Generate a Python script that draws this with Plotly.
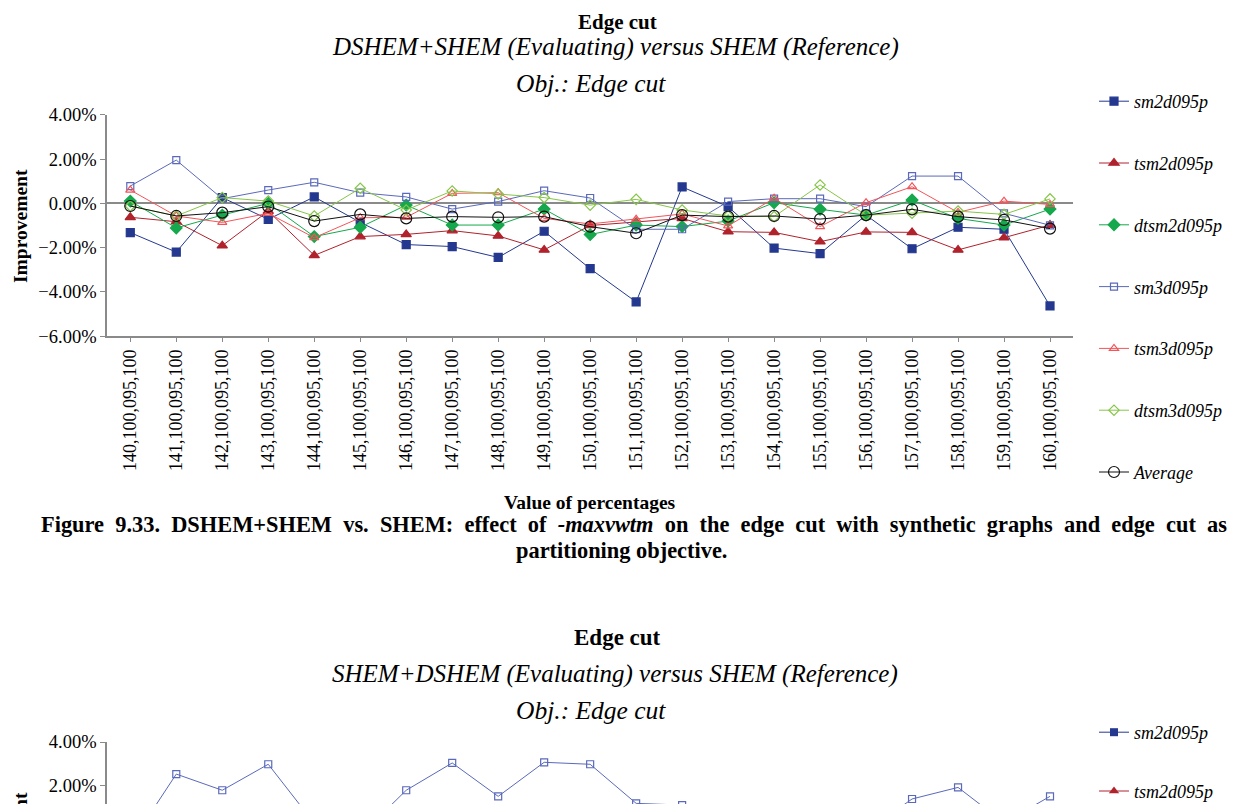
import plotly.graph_objects as go

# ---------------- data ----------------
categories = ["140,100,095,100", "141,100,095,100", "142,100,095,100", "143,100,095,100",
              "144,100,095,100", "145,100,095,100", "146,100,095,100", "147,100,095,100",
              "148,100,095,100", "149,100,095,100", "150,100,095,100", "151,100,095,100",
              "152,100,095,100", "153,100,095,100", "154,100,095,100", "155,100,095,100",
              "156,100,095,100", "157,100,095,100", "158,100,095,100", "159,100,095,100",
              "160,100,095,100"]

# Chart 1 (values in %)
sm2d095p = [-1.32, -2.20, 0.26, -0.72, 0.29, -0.86, -1.86, -1.95, -2.44, -1.26, -2.95,
            -4.45, 0.74, -0.15, -2.02, -2.27, -0.53, -2.05, -1.08, -1.17, -4.63]
tsm2d095p = [-0.63, -0.83, -1.91, -0.35, -2.35, -1.50, -1.40, -1.23, -1.47, -2.10, -1.00,
             -0.85, -0.68, -1.28, -1.31, -1.73, -1.29, -1.31, -2.10, -1.55, -0.98]
dtsm2d095p = [0.10, -1.11, -0.53, 0.00, -1.50, -1.08, -0.08, -0.98, -0.98, -0.26, -1.41,
              -0.98, -1.05, -0.80, 0.03, -0.27, -0.53, 0.15, -0.68, -0.98, -0.26]
sm3d095p = [0.78, 1.95, 0.21, 0.60, 0.95, 0.48, 0.29, -0.26, 0.08, 0.57, 0.24,
            -1.17, -1.17, 0.08, 0.21, 0.21, -0.15, 1.23, 1.23, -0.45, -0.99]
tsm3d095p = [0.60, -0.57, -0.86, -0.45, -1.55, -0.65, -0.63, 0.45, 0.48, -0.68, -0.93,
             -0.72, -0.48, -1.02, 0.23, -1.05, 0.03, 0.75, -0.41, 0.10, -0.05]
dtsm3d095p = [-0.12, -0.57, 0.26, 0.10, -0.57, 0.68, -0.30, 0.56, 0.42, 0.26, -0.08,
              0.18, -0.30, -0.57, -0.60, 0.83, -0.53, -0.45, -0.35, -0.50, 0.20]
average = [-0.12, -0.57, -0.42, -0.15, -0.80, -0.50, -0.68, -0.60, -0.63, -0.60, -1.05,
           -1.35, -0.53, -0.60, -0.57, -0.71, -0.53, -0.27, -0.60, -0.75, -1.14]

# Chart 2 (only its top part is visible on the page; values below ~1.2% are estimates)
sm3d095p_b = [-0.67, 2.53, 1.79, 2.98, 0.28, -0.28, 1.79, 3.04, 1.51, 3.07, 2.98,
              1.19, 1.11, 0.50, 0.30, 0.60, -0.10, 1.39, 1.92, 0.30, 1.51]

y_tickvals = [-6, -4, -2, 0, 2, 4]
y_ticktext = ["\u22126.00%", "\u22124.00%", "\u22122.00%", "0.00%", "2.00%", "4.00%"]

series_names = ["sm2d095p", "tsm2d095p", "dtsm2d095p", "sm3d095p", "tsm3d095p", "dtsm3d095p", "Average"]
series_values = [sm2d095p, tsm2d095p, dtsm2d095p, sm3d095p, tsm3d095p, dtsm3d095p, average]

# ---------------- styles ----------------
styles = {
    "sm2d095p":   dict(color="#24388F", symbol="square", size=8),
    "tsm2d095p":  dict(color="#B0222C", symbol="triangle-up", size=9),
    "dtsm2d095p": dict(color="#15A84C", symbol="diamond", size=9),
    "sm3d095p":   dict(color="#5A69BA", symbol="square-open", size=7),
    "tsm3d095p":  dict(color="#F2555A", symbol="triangle-up-open", size=8),
    "dtsm3d095p": dict(color="#86C548", symbol="diamond-open", size=8),
    "Average":    dict(color="#111111", symbol="circle-open", size=11),
}

OFF = 8                       # page body margin
W, H = 1236 - OFF, 804 - OFF  # figure size
FONT = "Liberation Serif"


def px_x(p):
    return (p - OFF) / W


def px_y(p):
    return 1 - (p - OFF) / H


fig = go.Figure()

for name, vals in zip(series_names, series_values):
    st = styles[name]
    fig.add_trace(go.Scatter(
        x=categories, y=vals, name=name, mode="lines+markers",
        line=dict(color=st["color"], width=1),
        marker=dict(symbol=st["symbol"], size=st["size"], color=st["color"],
                    line=dict(color=st["color"], width=1.2)),
        legend="legend", legendgroup="top_" + name,
        xaxis="x", yaxis="y",
    ))

# Chart 2 traces
for name in ["sm2d095p", "tsm2d095p"]:
    st = styles[name]
    fig.add_trace(go.Scatter(
        x=categories, y=[None] * len(categories), name=name, mode="lines+markers",
        line=dict(color=st["color"], width=1),
        marker=dict(symbol=st["symbol"], size=st["size"], color=st["color"]),
        legend="legend2", legendgroup="bot_" + name,
        xaxis="x2", yaxis="y2",
    ))
st = styles["sm3d095p"]
fig.add_trace(go.Scatter(
    x=categories, y=sm3d095p_b, name="sm3d095p", mode="lines+markers",
    line=dict(color=st["color"], width=1),
    marker=dict(symbol=st["symbol"], size=st["size"], color=st["color"],
                line=dict(color=st["color"], width=1.2)),
    showlegend=False, xaxis="x2", yaxis="y2",
))

axis_gray = "#8A8A8A"
x_dom = [px_x(107.3), px_x(1073)]

fig.update_layout(
    width=W, height=H,
    margin=dict(l=0, r=0, t=0, b=0, autoexpand=False),
    paper_bgcolor="white", plot_bgcolor="white",
    font=dict(family=FONT, color="black", size=18),
    xaxis=dict(
        domain=x_dom, anchor="y", type="category", range=[-0.5, 20.5],
        showline=True, linecolor=axis_gray, linewidth=2,
        ticks="outside", ticklen=4, tickcolor=axis_gray, tickwidth=1,
        tickangle=-90, tickfont=dict(family=FONT, size=18),
        showgrid=False, zeroline=False,
    ),
    yaxis=dict(
        domain=[px_y(336.3), px_y(114.7)], anchor="x", range=[-6, 4],
        tickvals=y_tickvals, ticktext=y_ticktext,
        showline=True, linecolor=axis_gray, linewidth=2,
        ticks="outside", ticklen=5, tickcolor=axis_gray, tickwidth=1,
        tickfont=dict(family=FONT, size=18.5),
        showgrid=False, zeroline=True, zerolinecolor=axis_gray, zerolinewidth=1.5,
    ),
    xaxis2=dict(
        domain=x_dom, anchor="y2", type="category", range=[-0.5, 20.5],
        visible=False,
    ),
    yaxis2=dict(
        domain=[0, px_y(742)], anchor="x2", range=[1.16, 4.0],
        tickvals=y_tickvals, ticktext=y_ticktext,
        showline=True, linecolor=axis_gray, linewidth=2,
        ticks="outside", ticklen=5, tickcolor=axis_gray, tickwidth=1,
        tickfont=dict(family=FONT, size=18.5),
        showgrid=False, zeroline=False,
    ),
    legend=dict(
        x=px_x(1094), y=px_y(83), xanchor="left", yanchor="top",
        font=dict(family=FONT, size=18, style="italic"),
        tracegroupgap=35.4, traceorder="grouped", bgcolor="rgba(0,0,0,0)",
    ),
    legend2=dict(
        x=px_x(1094), y=px_y(714), xanchor="left", yanchor="top",
        font=dict(family=FONT, size=18, style="italic"),
        tracegroupgap=32.4, traceorder="grouped", bgcolor="rgba(0,0,0,0)",
    ),
    showlegend=True,
)

ann = []


def text(x, y, t, size, **kw):
    ann.append(dict(xref="paper", yref="paper", x=px_x(x), y=px_y(y), text=t,
                    showarrow=False, xanchor=kw.pop("xanchor", "center"),
                    yanchor=kw.pop("yanchor", "middle"),
                    font=dict(family=FONT, size=size, color="black"), **kw))


GAP = "\u00a0 "  # the caption's first line is justified: wider word gaps

# Chart 1 titles
text(617, 8, "<b>Edge cut</b>", 21, yanchor="top")
text(615, 47, "<i>DSHEM+SHEM (Evaluating) versus SHEM (Reference)</i>", 25)
text(591, 83, "<i>Obj.: Edge cut</i>", 25.5)
text(20, 226, "<b>Improvement</b>", 19.5, textangle=-90)
text(590, 502, "<b>Value of percentages</b>", 19.5)

# Figure caption
cap1 = GAP.join(["Figure", "9.33.", "DSHEM+SHEM", "vs.", "SHEM:", "effect", "of", "<i>-maxvwtm</i>",
                 "on", "the", "edge", "cut", "with", "synthetic", "graphs", "and", "edge", "cut", "as"])
text(634, 524, "<b>" + cap1 + "</b>", 22.4)
text(621, 550, "<b>partitioning objective.</b>", 22.4)

# Chart 2 titles
text(617, 637, "<b>Edge cut</b>", 23)
text(615, 674, "<i>SHEM+DSHEM (Evaluating) versus SHEM (Reference)</i>", 25)
text(591, 710, "<i>Obj.: Edge cut</i>", 25.5)
text(20, 790, "<b>Improvement</b>", 19.5, textangle=-90, yanchor="top")

fig.update_layout(annotations=ann)

fig.write_html("out.html")
